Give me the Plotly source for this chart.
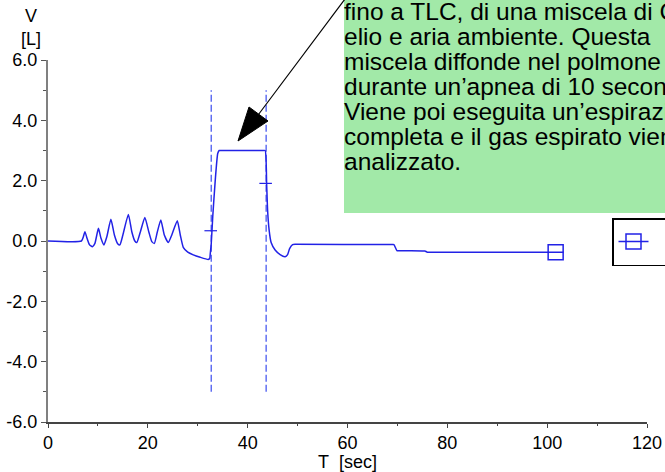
import plotly.graph_objects as go

# ---------------- data ----------------
T = [0, 6.7, 7.1, 7.4, 7.8, 8.3, 8.9, 9.4,
     10.1, 10.6, 11.2, 11.8,
     12.6, 13.3, 14.0, 14.4, 15.0,
     16.1, 16.8, 17.4, 17.8, 18.5,
     19.4, 20.2, 20.8, 21.3, 21.9,
     22.6, 23.3, 24.1, 24.8,
     25.9, 26.5, 27.1, 28.0, 29.1, 30.5, 32.1, 32.4, 32.5,
     32.7, 33.0, 33.5, 34.0, 34.3, 34.8, 43.0, 43.5, 43.8, 44.0, 44.3, 44.7,
     45.5, 46.5, 47.5, 48.0, 48.4, 49.0, 49.6, 68.8, 69.3, 69.9, 70.5,
     75.0, 75.5, 76.0, 77.0, 103.3]
V = [0, 0, 0.15, 0.31, 0.10, -0.12, -0.19, -0.08,
     0.42, 0.10, -0.13, 0.15,
     0.72, 0.20, -0.10, -0.13, 0.20,
     0.88, 0.30, 0.00, -0.05, 0.30,
     0.78, 0.30, -0.02, -0.08, 0.30,
     0.70, 0.20, -0.05, 0.20,
     0.67, 0.20, -0.21, -0.37, -0.46, -0.54, -0.61, -0.58, -0.43,
     -0.10, 0.80, 2.00, 2.90, 3.00, 3.00, 3.00, 3.00, 1.90, 1.00, 0.36, -0.05,
     -0.30, -0.45, -0.52, -0.45, -0.25, -0.12, -0.11, -0.12, -0.12, -0.32, -0.32,
     -0.33, -0.33, -0.37, -0.37, -0.37]

cursor_T = [32.6, 43.6]          # "+" cursor marks on the curve
cursor_V = [0.34, 1.91]
vline_T = [32.7, 43.7]           # dashed vertical markers
vline_V = [-5.0, 5.0]
marker_T = [101.7]               # square marker at the end of the trace
marker_V = [-0.37]

x_tickvals = [0, 20, 40, 60, 80, 100, 120]
x_ticktext = ["0", "20", "40", "60", "80", "100", "120"]
y_tickvals = [-6, -4, -2, 0, 2, 4, 6]
y_ticktext = ["-6.0", "-4.0", "-2.0", "0.0", "2.0", "4.0", "6.0"]

note_lines = [
    "fino a TLC, di una miscela di CO,",
    "elio e aria ambiente. Questa",
    "miscela diffonde nel polmone",
    "durante un’apnea di 10 secondi.",
    "Viene poi eseguita un’espirazione",
    "completa e il gas espirato viene",
    "analizzato.",
]

# ---------------- geometry helpers ----------------
W, H = 665, 472
L, R, TOP, BOT = 48, 18, 60, 50
PW = W - L - R
PH = H - TOP - BOT


def px(x):
    return (x - L) / PW


def py(y):
    return (H - BOT - y) / PH


FONT = "Liberation Sans, Arial, sans-serif"
BLUE = "#2222e6"
DASHBLUE = "#4a5af0"

fig = go.Figure()

for t in vline_T:
    fig.add_trace(go.Scatter(x=[t, t], y=vline_V, mode="lines",
                             line=dict(color=DASHBLUE, width=1.3, dash="7px,3px"),
                             showlegend=False, hoverinfo="skip"))

fig.add_trace(go.Scatter(x=T, y=V, mode="lines",
                         line=dict(color=BLUE, width=1.5, shape="spline", smoothing=0.5),
                         showlegend=False))

fig.add_trace(go.Scatter(x=cursor_T, y=cursor_V, mode="markers",
                         marker=dict(symbol="line-ew", size=9,
                                     line=dict(color=BLUE, width=1.2)),
                         showlegend=False))

fig.add_trace(go.Scatter(x=marker_T, y=marker_V, mode="lines+markers",
                         name="\u00a0" * 12 + "V",
                         line=dict(color=BLUE, width=1.5),
                         marker=dict(symbol="square-open", size=15,
                                     color=BLUE, line=dict(width=1.5))))

shapes = [
    # green text box
    dict(type="rect", xref="paper", yref="paper",
         x0=px(344), x1=px(700), y0=py(213), y1=py(-20),
         fillcolor="#a2e9a8", line=dict(width=0), layer="above"),
    # arrow shaft
    dict(type="line", xref="paper", yref="paper",
         x0=px(345), y0=py(-1), x1=px(258.5), y1=py(114.5),
         line=dict(color="black", width=1.2)),
    # arrow head
    dict(type="path", xref="paper", yref="paper",
         path="M {:.5f} {:.5f} L {:.5f} {:.5f} L {:.5f} {:.5f} Z".format(
             px(238), py(141), px(249), py(107), px(268), py(121)),
         fillcolor="black", line=dict(color="black", width=1)),
]

annotations = []
for i, line in enumerate(note_lines):
    annotations.append(dict(
        xref="paper", yref="paper", x=px(342), y=py(11.5 + 25 * i),
        xanchor="left", yanchor="middle", text=line, showarrow=False,
        font=dict(family=FONT, size=24.5, color="black"), align="left"))

annotations.append(dict(
    xref="paper", yref="paper", x=px(31), y=py(27),
    xanchor="center", yanchor="middle", text="V<br>[L]", showarrow=False,
    font=dict(family=FONT, size=18, color="black"), align="center"))

fig.update_layout(
    width=W, height=H,
    margin=dict(l=L, r=R, t=TOP, b=BOT, autoexpand=False),
    paper_bgcolor="white", plot_bgcolor="white",
    font=dict(family=FONT, size=18, color="black"),
    shapes=shapes, annotations=annotations,
    showlegend=True,
    legend=dict(x=px(612), y=py(218), xanchor="left", yanchor="top",
                bgcolor="white", bordercolor="black", borderwidth=1.5,
                font=dict(family=FONT, size=24), itemsizing="trace"),
)

fig.update_xaxes(range=[0, 120], tickvals=x_tickvals, ticktext=x_ticktext,
                 showline=True, linecolor="#444444", linewidth=1.5,
                 ticks="outside", ticklen=4, tickcolor="#444444", tickwidth=1,
                 minor=dict(dtick=10, ticks="outside", ticklen=2, tickcolor="#444444"),
                 showgrid=False, zeroline=False,
                 tickfont=dict(family=FONT, size=18),
                 title=dict(text="T\u00a0\u00a0[sec]", font=dict(family=FONT, size=18),
                            standoff=2))

fig.update_yaxes(range=[-6, 6], tickvals=y_tickvals, ticktext=y_ticktext,
                 showline=True, linecolor="#808080", linewidth=2,
                 ticks="outside", ticklen=5, tickcolor="#555555", tickwidth=1,
                 minor=dict(dtick=1, ticks="outside", ticklen=3, tickcolor="#555555"),
                 showgrid=False, zeroline=False,
                 tickfont=dict(family=FONT, size=18))

fig.write_html("out.html", config={"displayModeBar": False},
               post_script="document.body.style.margin='0';document.body.style.overflow='hidden';")
